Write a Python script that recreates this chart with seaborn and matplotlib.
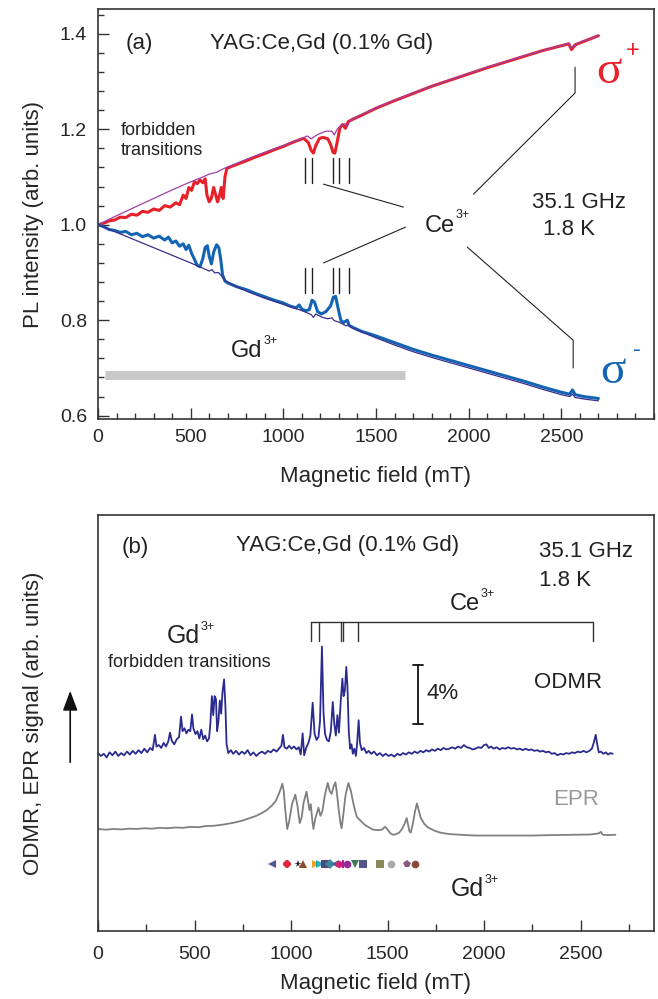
import seaborn as sns
import matplotlib.pyplot as plt
from matplotlib.ticker import MultipleLocator

# ---------------- panel (a): PL intensity vs field ----------------
# sigma+ reference (thin purple)
ref_plus_field = [0, 100, 200, 300, 400, 500, 560, 600, 640, 680, 720, 800, 900, 1000, 1060, 1100,
                  1130, 1150, 1165, 1190, 1230, 1262, 1275, 1290, 1310, 1330, 1345, 1360, 1400, 1500,
                  1600, 1700, 1800, 1900, 2000, 2100, 2200, 2300, 2400, 2500, 2540, 2555, 2575, 2620,
                  2660, 2700]
ref_plus = [1.000, 1.019, 1.037, 1.055, 1.073, 1.090, 1.099, 1.106, 1.110, 1.118, 1.124, 1.137, 1.152,
            1.166, 1.175, 1.181, 1.186, 1.180, 1.184, 1.190, 1.196, 1.196, 1.188, 1.200, 1.207, 1.212,
            1.206, 1.218, 1.227, 1.245, 1.261, 1.276, 1.290, 1.304, 1.317, 1.330, 1.342, 1.354, 1.365,
            1.376, 1.380, 1.370, 1.378, 1.385, 1.390, 1.396]

# sigma+ with microwaves (thick red)
sig_plus_field = [0, 30, 60, 90, 120, 150, 180, 210, 240, 270, 300, 330, 360, 390, 420, 440, 460, 475,
                  490, 505, 520, 535, 550, 565, 578, 588, 600, 612, 624, 634, 645, 655, 665, 675, 685,
                  695, 720, 760, 800, 850, 900, 950, 1000, 1040, 1080, 1110, 1135, 1150, 1162, 1175,
                  1195, 1215, 1240, 1255, 1268, 1278, 1290, 1305, 1320, 1335, 1350, 1380, 1420, 1500,
                  1600, 1700, 1800, 1900, 2000, 2100, 2200, 2300, 2400, 2500, 2540, 2555, 2575, 2620,
                  2660, 2700]
sig_plus = [1.000, 1.003, 1.008, 1.010, 1.016, 1.015, 1.022, 1.020, 1.028, 1.026, 1.033, 1.030, 1.040,
            1.037, 1.046, 1.042, 1.062, 1.055, 1.078, 1.072, 1.090, 1.086, 1.094, 1.088, 1.096, 1.062,
            1.048, 1.056, 1.078, 1.064, 1.048, 1.060, 1.078, 1.055, 1.100, 1.118, 1.122, 1.128, 1.134,
            1.142, 1.149, 1.157, 1.164, 1.171, 1.177, 1.181, 1.172, 1.156, 1.150, 1.166, 1.181, 1.183,
            1.180, 1.168, 1.152, 1.150, 1.172, 1.203, 1.210, 1.202, 1.216, 1.222, 1.229, 1.244, 1.260,
            1.275, 1.290, 1.303, 1.316, 1.329, 1.341, 1.353, 1.365, 1.375, 1.379, 1.367, 1.377, 1.384,
            1.390, 1.396]

# sigma- reference (thin navy)
ref_minus_field = [0, 100, 200, 300, 400, 500, 560, 600, 615, 630, 650, 670, 690, 750, 800, 900, 1000,
                   1100, 1150, 1162, 1175, 1210, 1240, 1262, 1275, 1300, 1340, 1352, 1365, 1400, 1500,
                   1600, 1700, 1800, 1900, 2000, 2100, 2200, 2300, 2400, 2500, 2545, 2560, 2575, 2620,
                   2660, 2700]
ref_minus = [1.000, 0.984, 0.968, 0.952, 0.936, 0.920, 0.910, 0.903, 0.906, 0.899, 0.900, 0.891, 0.882,
             0.870, 0.861, 0.846, 0.833, 0.820, 0.812, 0.806, 0.813, 0.806, 0.803, 0.805, 0.799, 0.796,
             0.788, 0.791, 0.785, 0.779, 0.763, 0.748, 0.734, 0.722, 0.711, 0.700, 0.689, 0.678, 0.667,
             0.655, 0.644, 0.640, 0.645, 0.638, 0.635, 0.633, 0.631]

# sigma- with microwaves (thick blue)
sig_minus_field = [0, 30, 60, 90, 120, 150, 180, 210, 240, 270, 300, 330, 360, 380, 400, 420, 440, 460,
                   475, 490, 505, 520, 535, 550, 565, 578, 590, 600, 612, 625, 640, 652, 662, 672, 685,
                   700, 750, 800, 850, 900, 950, 1000, 1040, 1070, 1085, 1100, 1120, 1140, 1155, 1168,
                   1185, 1205, 1230, 1255, 1270, 1282, 1295, 1310, 1325, 1345, 1355, 1380, 1420, 1500,
                   1600, 1700, 1800, 1900, 2000, 2100, 2200, 2300, 2400, 2500, 2545, 2560, 2575, 2620,
                   2660, 2700]
sig_minus = [1.000, 0.996, 0.990, 0.988, 0.984, 0.986, 0.979, 0.982, 0.975, 0.979, 0.972, 0.976, 0.968,
             0.974, 0.962, 0.966, 0.955, 0.960, 0.948, 0.957, 0.940, 0.928, 0.915, 0.912, 0.928, 0.952,
             0.956, 0.934, 0.918, 0.944, 0.958, 0.952, 0.928, 0.895, 0.882, 0.878, 0.870, 0.864, 0.856,
             0.849, 0.842, 0.836, 0.829, 0.826, 0.832, 0.823, 0.820, 0.822, 0.842, 0.838, 0.818, 0.813,
             0.818, 0.830, 0.848, 0.850, 0.826, 0.800, 0.795, 0.800, 0.789, 0.784, 0.777, 0.767, 0.753,
             0.739, 0.727, 0.716, 0.705, 0.694, 0.683, 0.672, 0.660, 0.649, 0.645, 0.654, 0.644, 0.640,
             0.638, 0.636]

ce_lines_a = [1115, 1153, 1266, 1303, 1352]
gd_band_a = [38, 1654]

# ---------------- panel (b): ODMR / EPR ----------------
odmr_field = [0, 15, 30, 45, 60, 75, 90, 105, 120, 135, 150, 165, 180, 195, 210, 225, 240, 255, 270, 283,
              295, 303, 315, 328, 340, 352, 364, 373, 382, 395, 408, 420, 430, 438, 448, 458, 468, 478,
              487, 494, 505, 515, 525, 535, 545, 555, 565, 575, 582, 590, 597, 604, 611, 617, 624, 631,
              638, 645, 653, 660, 666, 675, 688, 700, 715, 730, 745, 760, 775, 790, 805, 820, 835, 850,
              865, 880, 895, 910, 925, 940, 950, 958, 966, 978, 990, 1002, 1015, 1028, 1040, 1050, 1060,
              1068, 1078, 1090, 1100, 1112, 1122, 1132, 1142, 1150, 1160, 1168, 1176, 1186, 1196, 1206,
              1216, 1224, 1232, 1240, 1248, 1258, 1266, 1272, 1279, 1286, 1292, 1299, 1306, 1313, 1320,
              1328, 1336, 1343, 1350, 1357, 1366, 1378, 1390, 1402, 1415, 1430, 1445, 1460, 1475, 1490,
              1505, 1520, 1535, 1550, 1565, 1580, 1595, 1610, 1625, 1640, 1655, 1670, 1685, 1700, 1715,
              1730, 1745, 1760, 1775, 1790, 1805, 1820, 1835, 1850, 1865, 1880, 1895, 1910, 1925, 1940,
              1955, 1970, 1985, 2000, 2012, 2024, 2036, 2050, 2065, 2080, 2095, 2110, 2125, 2140, 2155,
              2170, 2185, 2200, 2215, 2230, 2245, 2260, 2275, 2290, 2305, 2320, 2335, 2350, 2365, 2380,
              2395, 2410, 2425, 2440, 2455, 2470, 2485, 2500, 2515, 2530, 2545, 2558, 2568, 2578, 2586,
              2594, 2605, 2618, 2630, 2642, 2654, 2666]
odmr = [0.0, -0.2, -0.05, -0.3, 0.05, -0.15, 0.1, -0.2, 0.0, -0.15, 0.1, -0.1, 0.15, -0.05, 0.2, 0.0,
        0.3, 0.05, 0.35, 0.2, 1.25, 0.45, 0.55, 0.35, 0.7, 0.45, 0.8, 1.4, 0.85, 0.6, 0.95, 1.1, 2.5, 1.5,
        1.7, 1.35, 1.6, 1.5, 2.65, 1.7, 1.3, 1.5, 1.0, 1.6, 0.95, 1.2, 0.8, 1.0, 2.0, 3.9, 2.6, 3.9, 3.7,
        1.5, 2.2, 3.6, 2.7, 4.2, 5.05, 3.2, 0.6, 0.0, 0.2, -0.05, 0.15, -0.1, 0.1, -0.05, 0.2, -0.15,
        0.05, -0.2, 0.0, 0.1, -0.05, 0.15, 0.05, 0.25, 0.1, 0.35, 0.5, 1.25, 0.4, 0.3, 0.5, 0.3, 0.45,
        0.25, 0.4, -0.1, 1.35, -0.15, 0.35, 0.7, 1.2, 3.45, 1.3, 0.9, 1.1, 2.2, 7.3, 2.8, 1.3, 0.9, 0.8,
        1.5, 3.5, 2.0, 1.2, 2.6, 1.4, 3.7, 5.1, 3.9, 4.3, 5.9, 4.6, 1.5, 0.3, 0.6, -0.05, 0.3, -0.2,
        0.8, 2.25, 0.7, 0.2, 0.35, 0.0, 0.15, -0.05, 0.1, -0.15, 0.0, -0.2, -0.05, -0.2, -0.1, -0.25,
        -0.05, -0.15, 0.0, -0.1, 0.05, -0.05, 0.1, 0.0, 0.15, 0.05, 0.2, 0.1, 0.25, 0.15, 0.3, 0.2, 0.35,
        0.25, 0.3, 0.4, 0.3, 0.45, 0.35, 0.55, 0.4, 0.35, 0.25, 0.3, 0.4, 0.35, 0.55, 0.6, 0.35, 0.45,
        0.3, 0.4, 0.25, 0.35, 0.3, 0.4, 0.3, 0.35, 0.25, 0.3, 0.2, 0.3, 0.2, 0.25, 0.15, 0.2, 0.1, 0.15,
        0.05, 0.1, -0.05, 0.0, -0.15, -0.05, -0.1, 0.0, -0.05, 0.05, 0.0, 0.1, 0.05, 0.15, 0.05, 0.15,
        0.3, 0.7, 1.25, 0.6, 0.05, 0.1, -0.05, 0.05, -0.1, 0.0, -0.05]

epr_field = [0, 40, 80, 120, 160, 200, 240, 280, 320, 360, 400, 440, 477, 520, 560, 600, 648, 700, 750,
             787, 820, 850, 875, 900, 920, 935, 945, 955, 962, 970, 980, 990, 1005, 1022, 1033, 1045,
             1055, 1065, 1080, 1088, 1095, 1102, 1110, 1116, 1125, 1142, 1152, 1162, 1175, 1190, 1200,
             1210, 1220, 1230, 1238, 1248, 1256, 1262, 1270, 1282, 1297, 1310, 1325, 1340, 1350, 1365,
             1385, 1405, 1425, 1450, 1470, 1487, 1497, 1515, 1528, 1545, 1560, 1575, 1588, 1599, 1606,
             1613, 1620, 1630, 1642, 1652, 1660, 1672, 1690, 1710, 1740, 1772, 1820, 1880, 1950, 2050,
             2150, 2250, 2350, 2450, 2550, 2595, 2605, 2615, 2640, 2680]
epr = [0.0, -0.05, 0.0, -0.03, 0.02, 0.0, 0.05, 0.02, 0.08, 0.05, 0.1, 0.08, 0.14, 0.12, 0.2, 0.22, 0.3,
       0.42, 0.58, 0.75, 0.9, 1.1, 1.3, 1.6, 1.9, 2.35, 2.7, 3.1, 2.6, 1.3, 0.0, 0.5, 1.7, 2.35, 1.6, 0.4,
       0.8, 1.8, 2.55, 1.9, 1.3, 1.7, 0.6, 0.0, 0.7, 1.45, 0.9, 1.2, 2.3, 3.15, 2.6, 2.4, 2.9, 3.2, 2.4,
       1.2, 0.4, 0.05, 0.9, 2.3, 3.15, 2.6, 1.6, 0.85, 0.7, 0.5, 0.25, 0.1, -0.05, -0.08, -0.05, 0.15,
       0.0, -0.3, -0.4, -0.35, -0.25, 0.0, 0.35, 0.75, 0.3, -0.15, -0.25, 0.3, 1.2, 1.75, 1.35, 0.75,
       0.35, 0.1, -0.1, -0.25, -0.35, -0.4, -0.45, -0.45, -0.45, -0.45, -0.42, -0.4, -0.38, -0.3, -0.2,
       -0.4, -0.42, -0.4]

ce_lines_b = [1102, 1145, 1259, 1269, 1347, 2562]
gd_fields = [900, 979, 1036, 1060, 1129, 1150, 1176, 1202, 1228, 1248, 1269, 1290, 1331, 1373, 1461,
             1518, 1601, 1642]
gd_markers = ['<', '8', '*', '^', '>', '>', 's', 'D', '<', 'h', 'P', 'o', 'v', 's', 's', 'o', 'p', 'o']
gd_colors = ['#55559a', '#e3263a', '#1a1a1a', '#8b4a2b', '#f0a020', '#22b0b5', '#4a4a8a', '#3a8a9a',
             '#4a5a9a', '#e0206a', '#b5208a', '#9a2a9a', '#3a7a5a', '#55558a', '#8a8a55', '#aaaaaa',
             '#8a5a7a', '#8a4a3a']

# ---------------- style ----------------
sns.set_style("ticks")
plt.rcParams['font.family'] = ['Liberation Sans', 'DejaVu Sans']
plt.rcParams['text.color'] = '#222222'

dark = '#333333'
fig = plt.figure(figsize=(6.58, 9.99), dpi=100)
ax1 = fig.add_axes([98/658, 1-419/999, 556/658, 410/999])
ax2 = fig.add_axes([98/658, 1-931/999, 556/658, 416/999])

for ax in (ax1, ax2):
    for s in ax.spines.values():
        s.set_visible(True)
        s.set_color(dark)
        s.set_linewidth(1.2)


def ion_label(ax, x, y, base, sup, size, sup_size=9, rise=9.5):
    # base text ends at x (baseline y), superscript starts right after it
    ax.text(x, y, base, fontsize=size, ha='right', va='baseline')
    ax.annotate(sup, xy=(x, y), xytext=(0.5, rise), textcoords='offset points',
                fontsize=sup_size, ha='left', va='baseline')


# ---- panel (a) ----
sns.lineplot(x=sig_plus_field, y=sig_plus, ax=ax1, color='#e8202a', linewidth=2.2)
sns.lineplot(x=ref_plus_field, y=ref_plus, ax=ax1, color='#a040a5', linewidth=0.9)
sns.lineplot(x=sig_minus_field, y=sig_minus, ax=ax1, color='#1464b4', linewidth=2.2)
sns.lineplot(x=ref_minus_field, y=ref_minus, ax=ax1, color='#3b2d8c', linewidth=0.9)

ax1.plot(gd_band_a, [0.686, 0.686], color='#c8c8c8', linewidth=6.5, solid_capstyle='butt')
for f in ce_lines_a:
    ax1.plot([f, f], [1.087, 1.139], color='#222222', linewidth=1.0)
    ax1.plot([f, f], [0.857, 0.909], color='#222222', linewidth=1.0)
# leader lines from the Ce3+ label
ax1.plot([1217, 1648], [1.085, 1.037], color='#222222', linewidth=0.8)
ax1.plot([1659, 1217], [0.995, 0.920], color='#222222', linewidth=0.8)
ax1.plot([2026, 2574, 2574], [1.064, 1.276, 1.330], color='#222222', linewidth=0.8)
ax1.plot([1993, 2564, 2564], [0.953, 0.758, 0.700], color='#222222', linewidth=0.8)

ax1.set_xlim(0, 3000)
ax1.set_ylim(0.593, 1.452)
ax1.xaxis.set_minor_locator(MultipleLocator(100))
ax1.yaxis.set_minor_locator(MultipleLocator(0.04))
ax1.tick_params(which='both', direction='in', color=dark, width=1.0, labelsize=14, top=False, right=False)
ax1.tick_params(which='major', length=8)
ax1.tick_params(which='minor', length=4)
ax1.tick_params(axis='x', pad=7)
ax1.tick_params(axis='y', pad=8)
ax1.set_xticks([0, 500, 1000, 1500, 2000, 2500])
ax1.set_xticklabels(['0', '500', '1000', '1500', '2000', '2500'])
ax1.set_yticks([0.6, 0.8, 1.0, 1.2, 1.4])
ax1.set_yticklabels(['0.6', '0.8', '1.0', '1.2', '1.4'])
ax1.set_xlabel('Magnetic field (mT)', fontsize=16)
ax1.set_ylabel('PL intensity (arb. units)', fontsize=16)
ax1.xaxis.set_label_coords(0.5, -0.115)
ax1.yaxis.set_label_coords(-0.097, 0.5)

ax1.text(221, 1.380, '(a)', fontsize=16, ha='center', va='center')
ax1.text(603, 1.380, 'YAG:Ce,Gd (0.1% Gd)', fontsize=16, ha='left', va='center')
ax1.text(124, 1.198, 'forbidden', fontsize=13, ha='left', va='center')
ax1.text(124, 1.156, 'transitions', fontsize=13, ha='left', va='center')
ion_label(ax1, 1928, 0.9856, 'Ce', '3+', 17)
ax1.text(2596, 1.047, '35.1 GHz', fontsize=16, ha='center', va='center')
ax1.text(2539, 0.991, '1.8 K', fontsize=16, ha='center', va='center')
ion_label(ax1, 889, 0.7227, 'Gd', '3+', 17)
ax1.text(2758, 1.2965, 'σ', fontsize=34, family='Liberation Serif', color='#e8202a', ha='center', va='baseline')
ax1.text(2884, 1.3636, '+', fontsize=17, color='#e8202a', ha='center', va='center')
ax1.text(2779, 0.668, 'σ', fontsize=34, family='Liberation Serif', color='#1464b4', ha='center', va='baseline')
ax1.text(2908, 0.737, '-', fontsize=17, color='#1464b4', ha='center', va='center')

# ---- panel (b) ----
odmr_offset = 12.19
epr_offset = 6.99
sns.lineplot(x=odmr_field, y=[v + odmr_offset for v in odmr], ax=ax2, color='#2a2a8f', linewidth=1.3)
sns.lineplot(x=epr_field, y=[v + epr_offset for v in epr], ax=ax2, color='#808080', linewidth=1.3)

for f, m, c in zip(gd_fields, gd_markers, gd_colors):
    ax2.plot([f], [4.59], marker=m, color=c, markersize=5.5, markeredgewidth=0, linestyle='none')

# Ce3+ bracket
ax2.plot([ce_lines_b[0], ce_lines_b[-1]], [21.2, 21.2], color='#333333', linewidth=1.0)
for f in ce_lines_b:
    ax2.plot([f, f], [19.9, 21.2], color='#333333', linewidth=1.0)
# 4% scale bar
ax2.plot([1656, 1656], [14.2, 18.2], color='#111111', linewidth=1.3)
ax2.plot([1630, 1682], [14.2, 14.2], color='#111111', linewidth=1.3)
ax2.plot([1630, 1682], [18.2, 18.2], color='#111111', linewidth=1.3)

ax2.set_xlim(0, 2880)
ax2.set_ylim(0, 28.5)
ax2.xaxis.set_minor_locator(MultipleLocator(250))
ax2.set_yticks([])
ax2.tick_params(which='both', direction='in', color=dark, width=1.0, labelsize=14, top=False, right=False, left=False)
ax2.tick_params(which='major', length=8)
ax2.tick_params(which='minor', length=5)
ax2.tick_params(axis='x', pad=11)
ax2.set_xticks([0, 500, 1000, 1500, 2000, 2500])
ax2.set_xticklabels(['0', '500', '1000', '1500', '2000', '2500'])
ax2.set_xlabel('Magnetic field (mT)', fontsize=16)
ax2.set_ylabel('ODMR, EPR signal (arb. units)', fontsize=16)
ax2.xaxis.set_label_coords(0.5, -0.1)
ax2.yaxis.set_label_coords(-0.097, 0.5)
ax2.annotate('', xy=(-0.05, 0.584), xytext=(-0.05, 0.399), xycoords='axes fraction',
             textcoords='axes fraction', annotation_clip=False,
             arrowprops=dict(arrowstyle='-|>,head_length=1.2,head_width=0.45', color='#111111', lw=1.2))

ax2.text(192, 26.3, '(b)', fontsize=16, ha='center', va='center')
ax2.text(715, 26.4, 'YAG:Ce,Gd (0.1% Gd)', fontsize=16, ha='left', va='center')
ax2.text(2284, 26.0, '35.1 GHz', fontsize=16, ha='left', va='center')
ax2.text(2284, 24.0, '1.8 K', fontsize=16, ha='left', va='center')
ion_label(ax2, 1979, 21.99, 'Ce', '3+', 17)
ion_label(ax2, 528, 19.73, 'Gd', '3+', 18)
ax2.text(471, 18.4, 'forbidden transitions', fontsize=13, ha='center', va='center')
ax2.text(1704, 16.3, '4%', fontsize=16, ha='left', va='center')
ax2.text(2435, 17.05, 'ODMR', fontsize=16, ha='center', va='center')
ax2.text(2476, 9.04, 'EPR', fontsize=16, color='#999999', ha='center', va='center')
ion_label(ax2, 2000, 2.4, 'Gd', '3+', 18)

fig.savefig('out.png', dpi=100)
